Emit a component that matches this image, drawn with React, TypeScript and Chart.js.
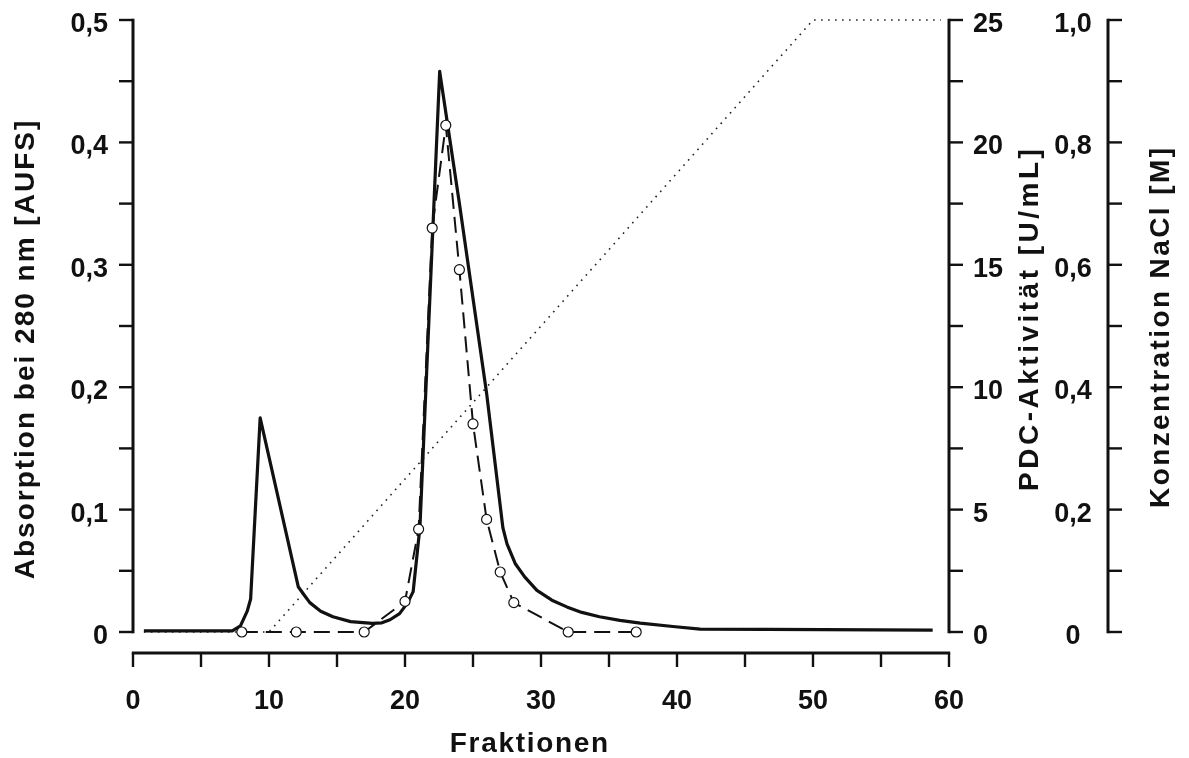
import React, { useEffect, useRef } from 'react';
import { Chart, registerables } from 'chart.js';

Chart.register(...registerables);

// ---- Data ----
// Absorption at 280 nm (solid line)
const FRACTION_A280 = [
  0.8, 5, 7.3, 7.9, 8.4, 8.65, 9.35, 12.15, 12.6, 13.0,
  13.8, 14.7, 16.0, 17.6, 18.3, 18.9, 19.6, 20.2, 20.6, 21.1,
  22.55, 24.0, 26.0, 27.2, 27.5, 28.1, 28.8, 29.7, 30.8, 31.9,
  33.0, 34.3, 35.8, 37.3, 39.7, 41.7, 46.6, 58.8,
];
const ABSORPTION = [
  0.001, 0.001, 0.001, 0.005, 0.017, 0.027, 0.175, 0.037, 0.03, 0.024,
  0.017, 0.0125, 0.0085, 0.007, 0.0075, 0.01, 0.015, 0.024, 0.033, 0.086,
  0.458, 0.35, 0.195, 0.085, 0.072, 0.056, 0.045, 0.034, 0.026, 0.0205,
  0.016, 0.0125, 0.0095, 0.0072, 0.0045, 0.0024, 0.0021, 0.0016,
];

// PDC activity (dashed line with open circles)
const FRACTION_PDC = [8, 12, 17, 20, 21, 22, 23, 24, 25, 26, 27, 28, 32, 37];
const PDC_ACTIVITY = [0, 0, 0, 1.25, 4.2, 16.5, 20.7, 14.8, 8.5, 4.6, 2.45, 1.2, 0, 0];

// NaCl gradient (dotted line)
const FRACTION_NACL = [0.8, 10, 50, 59.4];
const NACL = [0, 0, 1.0, 1.0];

// Tick labels
const X_TICKS = [0, 10, 20, 30, 40, 50, 60];
const ABS_TICKS = [0, 0.1, 0.2, 0.3, 0.4, 0.5];
const PDC_TICKS = [0, 5, 10, 15, 20, 25];
const NACL_TICKS = [0, 0.2, 0.4, 0.6, 0.8, 1.0];

const X_TITLE = 'Fraktionen';
const ABS_TITLE = 'Absorption bei 280 nm [AUFS]';
const PDC_TITLE = 'PDC-Aktivität [U/mL]';
const NACL_TITLE = 'Konzentration NaCl [M]';

const INK = '#111111';
const TICK_FONT = 'bold 27px "Liberation Sans", Arial, Helvetica, sans-serif';
const TITLE_FONT = 'bold 28px "Liberation Sans", Arial, Helvetica, sans-serif';

const fmtComma = (v: number) => (v === 0 ? '0' : v.toFixed(1).replace('.', ','));
const fmtInt = (v: number) => String(v);
const minorsOf = (ticks: number[]) => ticks.slice(1).map((t, i) => (t + ticks[i]) / 2);

const axesPlugin = {
  id: 'customAxes',
  afterDraw(chart: any) {
    const { ctx, chartArea: ca } = chart;
    const sx = chart.scales.x;
    const sA = chart.scales.yA;
    const sP = chart.scales.yP;
    const sN = chart.scales.yN;
    const AXIS_W = 3;
    const TICK_W = 2.4;
    const TICK_LEN = 14;

    ctx.save();
    ctx.strokeStyle = INK;
    ctx.fillStyle = INK;
    ctx.lineCap = 'butt';
    ctx.setLineDash([]);

    const vAxis = (
      scale: any,
      ax: number,
      dir: number,
      ticks: number[],
      fmt: (v: number) => string,
      labelX: number,
      align: CanvasTextAlign
    ) => {
      const top = scale.getPixelForValue(scale.max);
      const bot = scale.getPixelForValue(scale.min);
      ctx.lineWidth = AXIS_W;
      ctx.beginPath();
      ctx.moveTo(ax, top - TICK_W / 2);
      ctx.lineTo(ax, bot + TICK_W / 2);
      ctx.stroke();
      ctx.lineWidth = TICK_W;
      [...ticks, ...minorsOf(ticks)].forEach((v) => {
        const y = scale.getPixelForValue(v);
        ctx.beginPath();
        ctx.moveTo(ax, y);
        ctx.lineTo(ax + dir * TICK_LEN, y);
        ctx.stroke();
      });
      ctx.font = TICK_FONT;
      ctx.textAlign = align;
      ctx.textBaseline = 'alphabetic';
      ticks.forEach((v) => {
        const y = scale.getPixelForValue(v);
        ctx.fillText(fmt(v), labelX, y + 12);
      });
    };

    // Left: absorption axis
    vAxis(sA, ca.left, -1, ABS_TICKS, fmtComma, 108, 'right');
    // Right: PDC activity axis
    vAxis(sP, ca.right, 1, PDC_TICKS, fmtInt, 973, 'left');
    // Far right: NaCl axis (labels on the inner side)
    vAxis(sN, ca.right + 159, 1, NACL_TICKS, fmtComma, 1073, 'center');

    // Bottom: fraction axis, detached below the plot
    const ay = ca.bottom + 21;
    const x0 = sx.getPixelForValue(sx.min);
    const x1 = sx.getPixelForValue(sx.max);
    ctx.lineWidth = AXIS_W;
    ctx.beginPath();
    ctx.moveTo(x0 - TICK_W / 2, ay);
    ctx.lineTo(x1 + TICK_W / 2, ay);
    ctx.stroke();
    ctx.lineWidth = TICK_W;
    [...X_TICKS, ...minorsOf(X_TICKS)].forEach((v) => {
      const x = sx.getPixelForValue(v);
      ctx.beginPath();
      ctx.moveTo(x, ay);
      ctx.lineTo(x, ay + TICK_LEN);
      ctx.stroke();
    });
    ctx.font = TICK_FONT;
    ctx.textAlign = 'center';
    ctx.textBaseline = 'alphabetic';
    X_TICKS.forEach((v) => {
      ctx.fillText(fmtInt(v), sx.getPixelForValue(v), ay + 56);
    });

    // Titles
    const title = (text: string, cx: number, cy: number, rot: number, ls: number) => {
      ctx.save();
      ctx.translate(cx, cy);
      ctx.rotate(rot);
      ctx.font = TITLE_FONT;
      (ctx as any).letterSpacing = ls + 'px';
      ctx.textAlign = 'center';
      ctx.textBaseline = 'middle';
      ctx.fillText(text, ls / 2, 0);
      ctx.restore();
    };
    title(ABS_TITLE, 26, 350, -Math.PI / 2, 2);
    title(X_TITLE, (x0 + x1) / 2 - 12, 744, 0, 1.7);
    title(PDC_TITLE, 1030, 320, -Math.PI / 2, 3.5);
    title(NACL_TITLE, 1161, 328, -Math.PI / 2, 2.4);

    ctx.restore();
  },
};

export default function App() {
  const ref = useRef<HTMLCanvasElement>(null);

  useEffect(() => {
    const canvas = ref.current;
    if (!canvas) return;
    const chart = new Chart(canvas, {
      type: 'line',
      data: {
        datasets: [
          {
            label: 'PDC-Aktivität',
            data: FRACTION_PDC.map((x, i) => ({ x, y: PDC_ACTIVITY[i] })),
            yAxisID: 'yP',
            borderColor: INK,
            borderWidth: 2,
            borderDash: [16, 8],
            pointRadius: 5,
            pointBackgroundColor: '#ffffff',
            pointBorderColor: INK,
            pointBorderWidth: 1.2,
            tension: 0,
            clip: false,
            order: 1,
          } as any,
          {
            label: 'Absorption',
            data: FRACTION_A280.map((x, i) => ({ x, y: ABSORPTION[i] })),
            yAxisID: 'yA',
            borderColor: INK,
            borderWidth: 3.2,
            pointRadius: 0,
            tension: 0,
            clip: false,
            borderJoinStyle: 'round',
            order: 2,
          } as any,
          {
            label: 'NaCl',
            data: FRACTION_NACL.map((x, i) => ({ x, y: NACL[i] })),
            yAxisID: 'yN',
            borderColor: '#222222',
            borderWidth: 1.6,
            borderDash: [1.6, 5.4],
            pointRadius: 0,
            tension: 0,
            clip: false,
            order: 3,
          } as any,
        ],
      },
      options: {
        animation: false,
        responsive: false,
        devicePixelRatio: 1,
        layout: { padding: { left: 133, top: 20, right: 240, bottom: 126 } },
        plugins: {
          legend: { display: false },
          tooltip: { enabled: false },
        },
        scales: {
          x: { type: 'linear', min: 0, max: 60, display: false },
          yA: { type: 'linear', position: 'left', min: 0, max: 0.5, display: false },
          yP: { type: 'linear', position: 'right', min: 0, max: 25, display: false },
          yN: { type: 'linear', position: 'right', min: 0, max: 1, display: false },
        },
      } as any,
      plugins: [axesPlugin],
    });
    return () => chart.destroy();
  }, []);

  return (
    <div style={{ position: 'fixed', left: 0, top: 0, width: 1189, height: 758, background: '#ffffff' }}>
      <canvas ref={ref} width={1189} height={758} style={{ display: 'block', width: 1189, height: 758 }} />
    </div>
  );
}
